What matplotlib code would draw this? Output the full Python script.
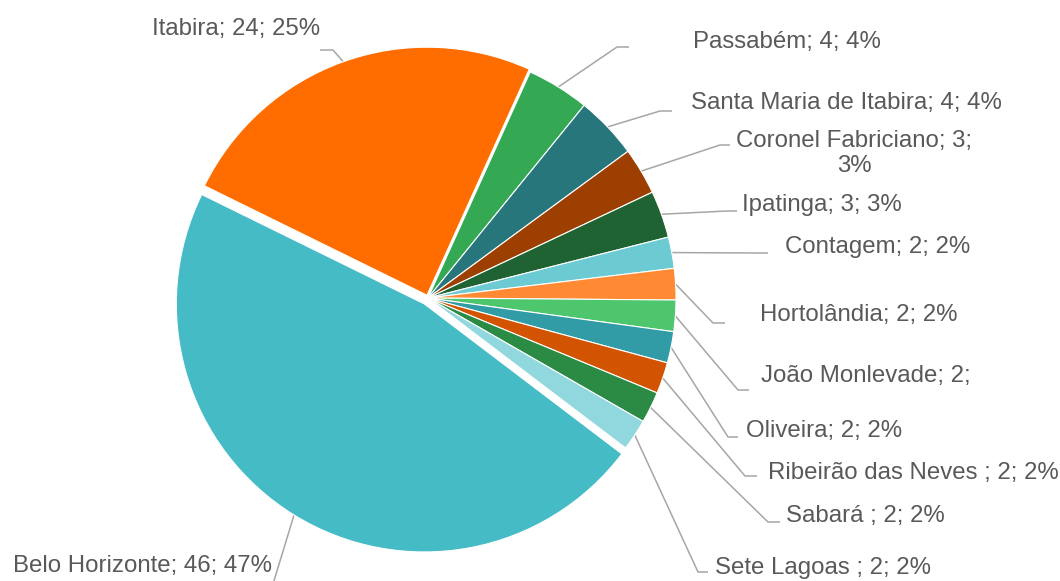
import numpy as np
import matplotlib
matplotlib.use("Agg")
import matplotlib.pyplot as plt

# data
names = ["Belo Horizonte", "Itabira", "Passabém", "Santa Maria de Itabira",
         "Coronel Fabriciano", "Ipatinga", "Contagem", "Hortolândia",
         "João Monlevade", "Oliveira", "Ribeirão das Neves ", "Sabará ",
         "Sete Lagoas "]
values = [46, 24, 4, 4, 3, 3, 2, 2, 2, 2, 2, 2, 2]
pcts = [47, 25, 4, 4, 3, 3, 2, 2, 2, 2, 2, 2, 2]
colors = ["#45BBC6", "#FF6D00", "#35A853", "#26767C", "#9C3F00", "#1E6331",
          "#6BCAD2", "#FF8A33", "#4EC66E", "#319CA5", "#D35400", "#2B8A44",
          "#90D8DE"]

labels = ["{}; {}; {}%".format(n, v, p) for n, v, p in zip(names, values, pcts)]
labels[4] = "{}; {};\n{}%".format(names[4], values[4], pcts[4])
labels[8] = "{}; {};".format(names[8], values[8])  # last part clipped in the original

W, H = 1060, 581
plt.rcParams['font.family'] = ['Liberation Sans', 'DejaVu Sans']

fig = plt.figure(figsize=(W / 100, H / 100), dpi=100)
ax = fig.add_axes([0, 0, 1, 1])

# explode is in data units here (pixels), pie is drawn in pixel space
cx, cy, R = 428, H - 298, 248
explode = [7, 3] + [0] * (len(values) - 2)
wedges, _ = ax.pie(values, colors=colors, explode=explode, startangle=-37.2,
                   counterclock=False, center=(cx, cy), radius=R,
                   wedgeprops=dict(edgecolor='white', linewidth=0.8))

# label layout in pixel coords (y down): text x, baseline y (last line), ha, elbow, line end
layout = [
    (13, 572, 'left', (273, 584), 273),
    (152, 35, 'left', (333, 50), 320),
    (693, 48, 'left', (617, 47), 629),
    (691, 109, 'left', (660, 111), 672),
    (854, 172, 'center', (720, 145), 730),
    (742, 211, 'left', (727, 211), 737),
    (785, 253, 'left', (758, 253), 768),
    (760, 321, 'left', (713, 323), 725),
    (761, 382, 'left', (738, 390), 749),
    (746, 437, 'left', (728, 437), 738),
    (768, 479, 'left', (745, 476), 757),
    (786, 522, 'left', (768, 522), 780),
    (715, 574, 'left', (698, 572), 708),
]

for w, lab, (tx, ty, ha, (ex, ey), hx) in zip(wedges, labels, layout):
    ang = np.deg2rad((w.theta1 + w.theta2) / 2)
    sx = w.center[0] + w.r * np.cos(ang)
    sy = w.center[1] + w.r * np.sin(ang)
    ax.plot([sx, ex, hx], [sy, H - ey, H - ey], color='#A6A6A6', lw=1.1,
            solid_capstyle='butt', zorder=0)
    ax.text(tx, H - ty, lab, ha=ha, va='baseline', fontsize=17.3,
            color='#595959', linespacing=1.15, multialignment='center')

ax.set_xlim(0, W)
ax.set_ylim(0, H)
ax.set_aspect('equal')
ax.axis('off')
fig.savefig("out.png", dpi=100)
